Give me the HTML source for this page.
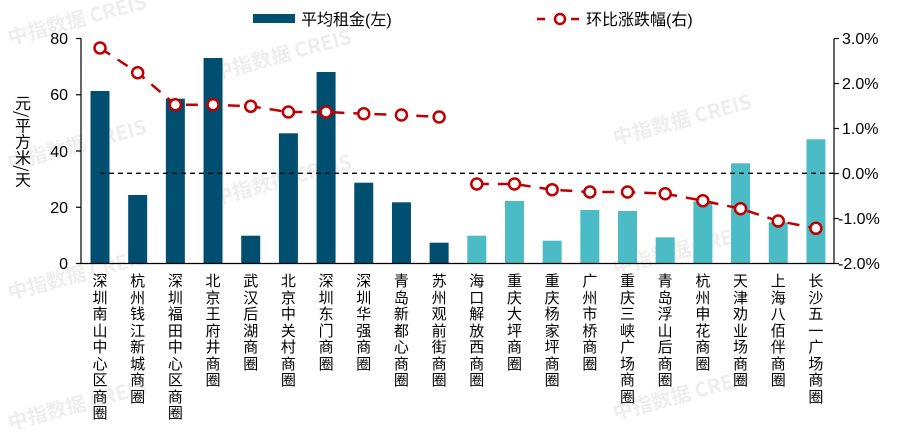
<!DOCTYPE html>
<html><head><meta charset="utf-8"><style>
body{margin:0;background:#fff;width:901px;height:435px;overflow:hidden;position:relative;font-family:"Liberation Sans","Noto Sans CJK SC",sans-serif;}
.c{position:absolute;top:273px;width:18px;font-size:15px;line-height:16.5px;text-align:center;color:#000;word-break:break-all;font-family:"Noto Sans CJK SC","WenQuanYi Zen Hei",sans-serif;}
svg{position:absolute;left:0;top:0}
</style></head><body>
<svg width="901" height="435" xmlns="http://www.w3.org/2000/svg" font-family="Liberation Sans, Noto Sans CJK SC, sans-serif">
<g fill="#d9d9d9" opacity="0.45" font-size="20" font-weight="bold" font-family="Noto Sans CJK SC, sans-serif">
<text x="10" y="45" transform="rotate(-15 10 45)">中指数据 CREIS</text>
<text x="215" y="80" transform="rotate(-15 215 80)">中指数据 CREIS</text>
<text x="10" y="170" transform="rotate(-15 10 170)">中指数据 CREIS</text>
<text x="215" y="205" transform="rotate(-15 215 205)">中指数据 CREIS</text>
<text x="615" y="145" transform="rotate(-15 615 145)">中指数据 CREIS</text>
<text x="615" y="275" transform="rotate(-15 615 275)">中指数据 CREIS</text>
<text x="10" y="300" transform="rotate(-15 10 300)">中指数据 CREIS</text>
<text x="10" y="430" transform="rotate(-15 10 430)">中指数据 CREIS</text>
<text x="615" y="420" transform="rotate(-15 615 420)">中指数据 CREIS</text>
</g>
<g id="bars"></g>
<line x1="81" y1="38.5" x2="81" y2="263.5" stroke="#000" stroke-width="1.2"/>
<line x1="81" y1="263.5" x2="834" y2="263.5" stroke="#000" stroke-width="1.2"/>
<line x1="834" y1="38.5" x2="834" y2="263.5" stroke="#000" stroke-width="1.2"/>
<g stroke="#000" stroke-width="1.2">
<line x1="76" y1="38.5" x2="81" y2="38.5"/><line x1="76" y1="94.75" x2="81" y2="94.75"/><line x1="76" y1="151" x2="81" y2="151"/><line x1="76" y1="207.25" x2="81" y2="207.25"/><line x1="76" y1="263.5" x2="81" y2="263.5"/>
<line x1="834" y1="38.5" x2="839" y2="38.5"/><line x1="834" y1="83.5" x2="839" y2="83.5"/><line x1="834" y1="128.5" x2="839" y2="128.5"/><line x1="834" y1="173.5" x2="839" y2="173.5"/><line x1="834" y1="218.5" x2="839" y2="218.5"/><line x1="834" y1="263.5" x2="839" y2="263.5"/>
</g>
<g font-size="16" text-anchor="end" fill="#000">
<text x="68" y="44">80</text><text x="68" y="100">60</text><text x="68" y="157">40</text><text x="68" y="213">20</text><text x="68" y="269">0</text>
</g>
<g font-size="16" text-anchor="start" fill="#000">
<text x="842" y="44">3.0%</text><text x="842" y="89">2.0%</text><text x="842" y="134">1.0%</text><text x="842" y="179">0.0%</text><text x="838" y="224">-1.0%</text><text x="838" y="269">-2.0%</text>
</g>
<line x1="100" y1="173.3" x2="834" y2="173.3" stroke="#000" stroke-width="1.3" stroke-dasharray="5,4"/>
<polyline id="ln1" fill="none" stroke="#c00000" stroke-width="2.5" stroke-dasharray="12,9"/>
<polyline id="ln2" fill="none" stroke="#c00000" stroke-width="2.5" stroke-dasharray="12,9"/>
<g id="dots"></g>
<text font-size="16" fill="#000" font-family="Noto Sans CJK SC, sans-serif" transform="translate(23,95)" writing-mode="tb">元/平方米/天</text>
<rect x="253" y="14" width="42" height="9" fill="#004f71"/>
<text x="301" y="25" font-size="16" font-family="Liberation Sans, Noto Sans CJK SC, sans-serif">平均租金(左)</text>
<line x1="537" y1="19" x2="583" y2="19" stroke="#c00000" stroke-width="2.5" stroke-dasharray="8,9"/>
<circle cx="560" cy="19" r="5" fill="#fff" stroke="#c00000" stroke-width="2.5"/>
<text x="586" y="25" font-size="16" font-family="Liberation Sans, Noto Sans CJK SC, sans-serif">环比涨跌幅(右)</text>
</svg>
<div id="labels"></div>
<script>
var tops=[91,195,98.7,58,235.7,133.3,72,182.7,202.3,242.7,235.7,201,240.7,210,211,237.3,201.3,163.3,222.3,139.3];
var ly=[48,72.7,104.7,104.7,106.3,112,112,113.7,115,117,184,184,189.7,192,192,193.7,200.7,208.7,221,228.3];
var names=["深圳南山中心区商圈","杭州钱江新城商圈","深圳福田中心区商圈","北京王府井商圈","武汉后湖商圈","北京中关村商圈","深圳东门商圈","深圳华强商圈","青岛新都心商圈","苏州观前街商圈","海口解放西商圈","重庆大坪商圈","重庆杨家坪商圈","广州市桥商圈","重庆三峡广场商圈","青岛浮山后商圈","杭州申花商圈","天津劝业场商圈","上海八佰伴商圈","长沙五一广场商圈"];
var ns="http://www.w3.org/2000/svg",b=document.getElementById("bars"),d=document.getElementById("dots"),p1=[],p2=[],h="";
for(var i=0;i<20;i++){var cx=100+i*37.68;
var r=document.createElementNS(ns,"rect");r.setAttribute("x",cx-9.5);r.setAttribute("y",tops[i]);r.setAttribute("width",19);r.setAttribute("height",263.5-tops[i]);r.setAttribute("fill",i<10?"#004f71":"#4bbcc6");b.appendChild(r);
(i<10?p1:p2).push(cx+","+ly[i]);
var c=document.createElementNS(ns,"circle");c.setAttribute("cx",cx);c.setAttribute("cy",ly[i]);c.setAttribute("r",5.5);c.setAttribute("fill","#fff");c.setAttribute("stroke","#c00000");c.setAttribute("stroke-width","2.5");d.appendChild(c);
h+='<div class="c" style="left:'+(cx-9)+'px">'+names[i]+'</div>';}
document.getElementById("ln1").setAttribute("points",p1.join(" "));
document.getElementById("ln2").setAttribute("points",p2.join(" "));
document.getElementById("labels").innerHTML=h;
</script>
</body></html>
